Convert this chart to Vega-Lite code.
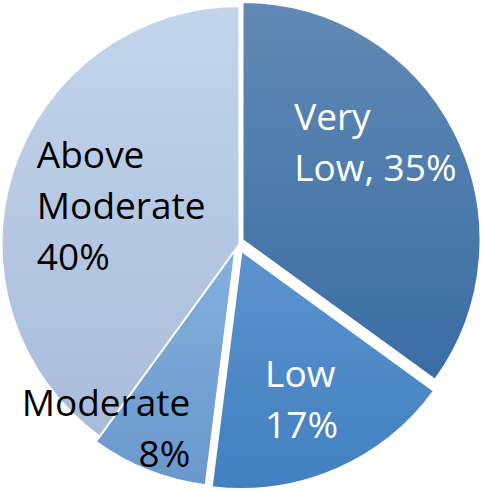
{
  "$schema": "https://vega.github.io/schema/vega-lite/v6.json",
  "width": 482,
  "height": 491,
  "autosize": {"type": "fit", "contains": "padding"},
  "padding": 0,
  "background": "white",
  "view": {"stroke": null},
  "config": {"text": {"font": "Open Sans", "fontSize": 37, "lineHeight": 51}},
  "data": {"values": [
    {"category": "Very Low", "value": 35, "label": "Very\nLow, 35%"},
    {"category": "Low", "value": 17, "label": "Low\n17%"},
    {"category": "Moderate", "value": 8, "label": "Moderate\n8%"},
    {"category": "Above Moderate", "value": 40, "label": "Above\nModerate\n40%"}
  ]},
  "transform": [
    {"stack": "value", "groupby": [], "as": ["v0", "v1"]},
    {"calculate": "(datum.v0 + datum.v1) / 2", "as": "mid"}
  ],
  "layer": [
    {
      "transform": [{"filter": "datum.category === 'Very Low'"}],
      "mark": {"type": "arc", "outerRadius": 238, "stroke": "white", "strokeWidth": 2, "xOffset": 3, "yOffset": -3,
        "fill": {"gradient": "linear", "x1": 0, "y1": 0, "x2": 0, "y2": 1, "stops": [{"offset": 0, "color": "#6189b4"}, {"offset": 1, "color": "#3a6da4"}]}},
      "encoding": {
        "theta": {"field": "v0", "type": "quantitative", "stack": null, "scale": {"domain": [0, 100]}},
        "theta2": {"field": "v1"}
      }
    },
    {
      "transform": [{"filter": "datum.category === 'Low'"}],
      "mark": {"type": "arc", "outerRadius": 238, "stroke": "white", "strokeWidth": 2, "xOffset": 2, "yOffset": 8,
        "fill": {"gradient": "linear", "x1": 0, "y1": 0, "x2": 0, "y2": 1, "stops": [{"offset": 0, "color": "#5b93cd"}, {"offset": 1, "color": "#4280c1"}]}},
      "encoding": {
        "theta": {"field": "v0", "type": "quantitative", "stack": null, "scale": {"domain": [0, 100]}},
        "theta2": {"field": "v1"}
      }
    },
    {
      "transform": [{"filter": "datum.category === 'Moderate'"}],
      "mark": {"type": "arc", "outerRadius": 238, "stroke": "white", "strokeWidth": 2, "xOffset": -4, "yOffset": 6,
        "fill": {"gradient": "linear", "x1": 0, "y1": 0, "x2": 0, "y2": 1, "stops": [{"offset": 0, "color": "#85b0de"}, {"offset": 1, "color": "#6a98cc"}]}},
      "encoding": {
        "theta": {"field": "v0", "type": "quantitative", "stack": null, "scale": {"domain": [0, 100]}},
        "theta2": {"field": "v1"}
      }
    },
    {
      "transform": [{"filter": "datum.category === 'Above Moderate'"}],
      "mark": {"type": "arc", "outerRadius": 238, "stroke": "white", "strokeWidth": 2, "xOffset": 0, "yOffset": 1,
        "fill": {"gradient": "linear", "x1": 0, "y1": 0, "x2": 0, "y2": 1, "stops": [{"offset": 0, "color": "#c3d5ec"}, {"offset": 1, "color": "#a8bcda"}]}},
      "encoding": {
        "theta": {"field": "v0", "type": "quantitative", "stack": null, "scale": {"domain": [0, 100]}},
        "theta2": {"field": "v1"}
      }
    },
    {
      "transform": [{"filter": "datum.category === 'Very Low'"}],
      "mark": {"type": "text", "radius": 150, "align": "left", "baseline": "alphabetic", "lineBreak": "\n", "color": "white", "dx": -79, "dy": -45},
      "encoding": {
        "theta": {"field": "mid", "type": "quantitative", "stack": null, "scale": {"domain": [0, 100]}},
        "text": {"field": "label"}
      }
    },
    {
      "transform": [{"filter": "datum.category === 'Low'"}],
      "mark": {"type": "text", "radius": 150, "align": "left", "baseline": "alphabetic", "lineBreak": "\n", "color": "white", "dx": -34, "dy": 6},
      "encoding": {
        "theta": {"field": "mid", "type": "quantitative", "stack": null, "scale": {"domain": [0, 100]}},
        "text": {"field": "label"}
      }
    },
    {
      "transform": [{"filter": "datum.category === 'Moderate'"}],
      "mark": {"type": "text", "radius": 150, "align": "right", "baseline": "alphabetic", "lineBreak": "\n", "color": "black", "dx": 6, "dy": 34},
      "encoding": {
        "theta": {"field": "mid", "type": "quantitative", "stack": null, "scale": {"domain": [0, 100]}},
        "text": {"field": "label"}
      }
    },
    {
      "transform": [{"filter": "datum.category === 'Above Moderate'"}],
      "mark": {"type": "text", "radius": 150, "align": "left", "baseline": "alphabetic", "lineBreak": "\n", "color": "black", "dx": -60, "dy": -29},
      "encoding": {
        "theta": {"field": "mid", "type": "quantitative", "stack": null, "scale": {"domain": [0, 100]}},
        "text": {"field": "label"}
      }
    }
  ]
}
